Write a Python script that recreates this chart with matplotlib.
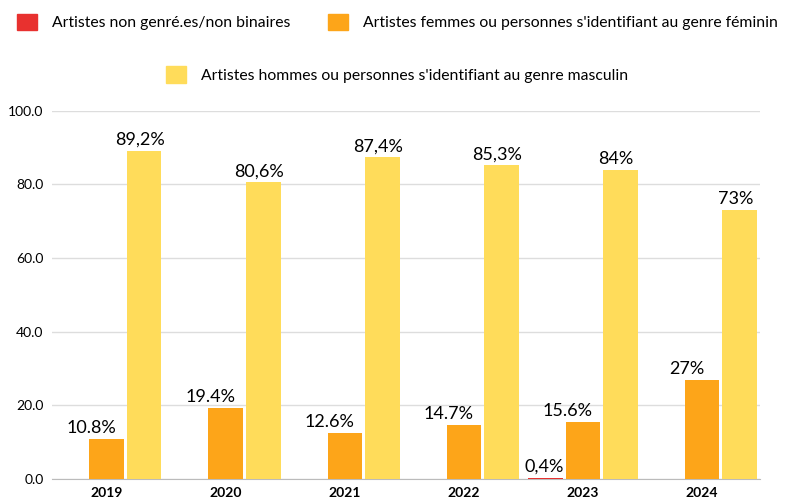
import numpy as np
import matplotlib
matplotlib.use("Agg")
import matplotlib.pyplot as plt
from matplotlib.patches import Patch

plt.rcParams['font.family'] = ['Lato', 'DejaVu Sans']

# Data
years = ['2019', '2020', '2021', '2022', '2023', '2024']
non_binaires = [0, 0, 0, 0, 0.4, 0]
femmes = [10.8, 19.4, 12.6, 14.7, 15.6, 27]
hommes = [89.2, 80.6, 87.4, 85.3, 84, 73]
lbl_non_binaires = ['', '', '', '', '0,4%', '']
lbl_femmes = ['10.8%', '19.4%', '12.6%', '14.7%', '15.6%', '27%']
lbl_hommes = ['89,2%', '80,6%', '87,4%', '85,3%', '84%', '73%']

c_red = '#E8312F'
c_orange = '#FDA519'
c_yellow = '#FFDC5A'

fig = plt.figure(figsize=(7.87, 4.99), dpi=100)
ax = fig.add_axes([0.066, 0.04, 0.9, 0.738])

x = np.arange(len(years))
w = 0.29
off = 0.315
ax.bar(x - off, non_binaires, w, color=c_red, zorder=3)
ax.bar(x, femmes, w, color=c_orange, zorder=3)
ax.bar(x + off, hommes, w, color=c_yellow, zorder=3)

for i in range(len(years)):
    if lbl_non_binaires[i]:
        ax.annotate(lbl_non_binaires[i], (x[i] - off, non_binaires[i]), xytext=(-1, 2),
                    textcoords='offset points', ha='center', va='bottom', fontsize=13)
    ax.annotate(lbl_femmes[i], (x[i], femmes[i]), xytext=(-11, 2),
                textcoords='offset points', ha='center', va='bottom', fontsize=13)
    ax.annotate(lbl_hommes[i], (x[i] + off, hommes[i]), xytext=(-3, 2),
                textcoords='offset points', ha='center', va='bottom', fontsize=13)

ax.set_xlim(-0.46, 5.49)
ax.set_ylim(0, 100)
ax.set_yticks([0, 20, 40, 60, 80, 100])
ax.set_yticklabels(['0.0', '20.0', '40.0', '60.0', '80.0', '100.0'], fontsize=10)
ax.set_xticks(x)
ax.set_xticklabels(years, fontsize=10, fontweight='bold')
ax.tick_params(length=0, pad=6)
ax.yaxis.grid(True, color='#dddddd', linewidth=1, zorder=0)
for s in ['top', 'right', 'left']:
    ax.spines[s].set_visible(False)
ax.spines['bottom'].set_color('#bbbbbb')

# Legend
leg_kw = dict(frameon=False, fontsize=11.3, handlelength=1.27, handleheight=1.27,
              handletextpad=0.95, borderaxespad=0, loc='center left')
h1 = [Patch(color=c_red), Patch(color=c_orange)]
t1 = ['Artistes non genré.es/non binaires',
      "Artistes femmes ou personnes s'identifiant au genre féminin"]
fig.legend(h1, t1, bbox_to_anchor=(0.0136, 0.956), ncol=2, columnspacing=2.4, **leg_kw)
h2 = [Patch(color=c_yellow)]
t2 = ["Artistes hommes ou personnes s'identifiant au genre masculin"]
fig.legend(h2, t2, bbox_to_anchor=(0.203, 0.85), **leg_kw)

fig.savefig('out.png', dpi=100)
